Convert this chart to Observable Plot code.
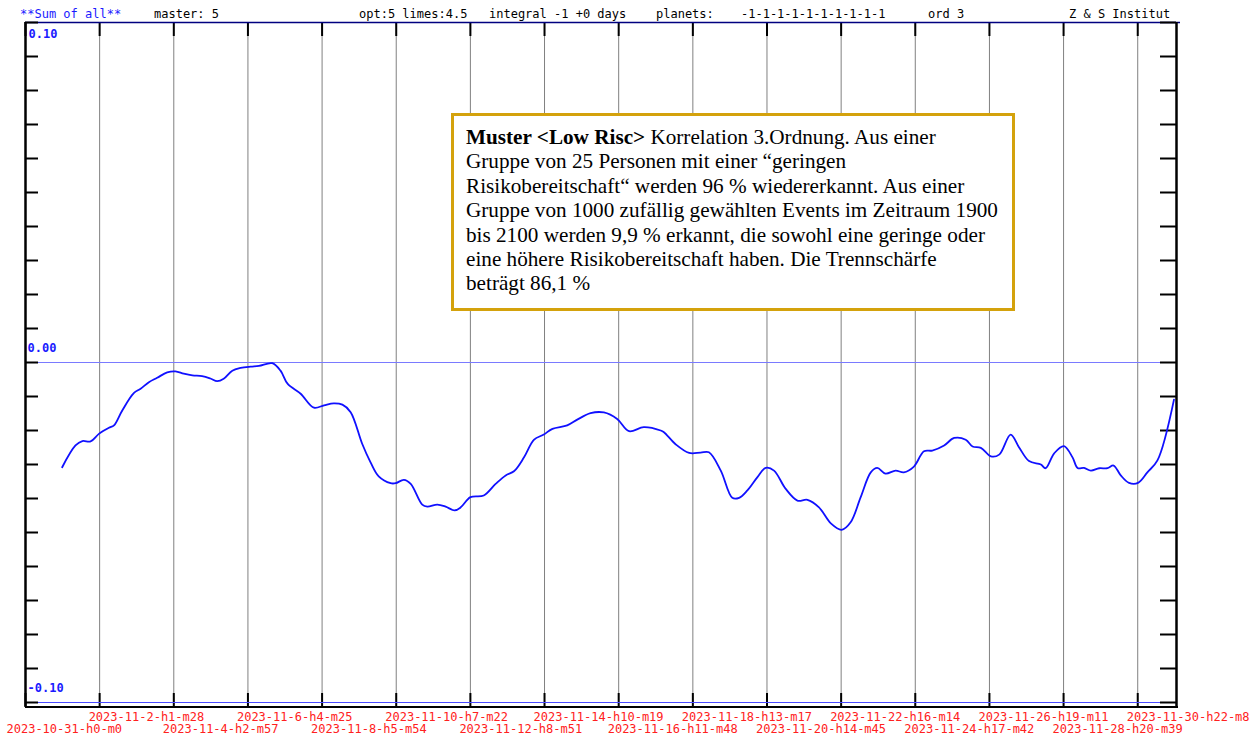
<!DOCTYPE html>
<html><head><meta charset="utf-8">
<script src="https://cdn.jsdelivr.net/npm/d3@7"></script>
<script src="https://cdn.jsdelivr.net/npm/@observablehq/plot@0.6"></script>
<style>
body{margin:0;background:#fff;}
#wrap{position:relative;width:1259px;height:740px;overflow:hidden;}
#wrap svg{position:absolute;left:0;top:0;}
.hd{position:absolute;top:7px;font-family:"DejaVu Sans Mono",monospace;font-size:12px;color:#000;white-space:pre;line-height:14px;}
#note{position:absolute;left:451px;top:113px;width:564px;height:198px;box-sizing:border-box;border:3px solid #d4a20c;background:#fff;font-family:"Liberation Serif","Times New Roman",serif;font-size:21.2px;line-height:24.4px;padding:9px 0 0 12px;color:#000;white-space:nowrap;}
#note b{font-family:"Liberation Serif","Times New Roman",serif;}
</style></head>
<body>
<div id="wrap"></div>
<script>
// ---- data ----
const startDay = [2023, 10, 31];   // year, month, day of the axis start
const endDay = [2023, 12, 2];      // year, month, day of the axis end
const dayOffsets = [1.02,1.39,1.58,1.81,2.04,2.32,2.46,2.69,3.01,3.20,3.43,3.66,3.94,4.17,4.40,4.64,4.91,5.14,5.33,5.51,5.75,5.98,6.26,6.49,6.86,7.09,7.29,7.65,8.02,8.30,8.57,8.81,9.04,9.36,9.59,9.82,10.15,10.29,10.52,10.71,11.03,11.17,11.45,11.68,11.93,12.10,12.37,12.74,13.07,13.35,13.58,13.86,14.14,14.41,14.65,15.06,15.34,15.71,16.08,16.45,16.78,17.19,17.66,17.75,18.08,18.45,18.77,19.00,19.33,19.65,19.84,20.07,20.35,20.58,20.81,21.13,21.46,21.74,22.06,22.39,22.69,22.94,23.22,23.50,23.68,23.91,24.19,24.42,24.70,24.98,25.21,25.54,25.82,26.14,26.33,26.56,26.84,27.07,27.39,27.62,27.90,28.23,28.36,28.60,28.87,29.11,29.25,29.43,29.62,29.85,30.08,30.25,30.45,30.68,30.93,31.19,31.47,31.93];
const values = [-0.0308,-0.0244,-0.0231,-0.0232,-0.0210,-0.0192,-0.0185,-0.0141,-0.0090,-0.0077,-0.0058,-0.0045,-0.0029,-0.0026,-0.0033,-0.0038,-0.0040,-0.0047,-0.0055,-0.0048,-0.0024,-0.0016,-0.0012,-0.0010,-0.0002,-0.0024,-0.0063,-0.0092,-0.0133,-0.0126,-0.0120,-0.0124,-0.0146,-0.0239,-0.0293,-0.0335,-0.0355,-0.0355,-0.0345,-0.0357,-0.0418,-0.0424,-0.0418,-0.0424,-0.0435,-0.0426,-0.0396,-0.0391,-0.0357,-0.0332,-0.0320,-0.0279,-0.0227,-0.0212,-0.0195,-0.0185,-0.0168,-0.0149,-0.0147,-0.0166,-0.0202,-0.0190,-0.0200,-0.0205,-0.0241,-0.0266,-0.0265,-0.0264,-0.0318,-0.0398,-0.0398,-0.0376,-0.0337,-0.0310,-0.0318,-0.0371,-0.0406,-0.0404,-0.0426,-0.0473,-0.0492,-0.0470,-0.0396,-0.0323,-0.0310,-0.0327,-0.0318,-0.0323,-0.0306,-0.0261,-0.0259,-0.0244,-0.0222,-0.0227,-0.0247,-0.0251,-0.0276,-0.0271,-0.0212,-0.0249,-0.0290,-0.0300,-0.0311,-0.0267,-0.0246,-0.0279,-0.0310,-0.0310,-0.0318,-0.0311,-0.0311,-0.0303,-0.0332,-0.0354,-0.0354,-0.0323,-0.0288,-0.0109];
const tickLabels = ["2023-10-31-h0-m0","2023-11-2-h1-m28","2023-11-4-h2-m57","2023-11-6-h4-m25","2023-11-8-h5-m54","2023-11-10-h7-m22","2023-11-12-h8-m51","2023-11-14-h10-m19","2023-11-16-h11-m48","2023-11-18-h13-m17","2023-11-20-h14-m45","2023-11-22-h16-m14","2023-11-24-h17-m42","2023-11-26-h19-m11","2023-11-28-h20-m39","2023-11-30-h22-m8"];
const yTicks = [-0.10,-0.09,-0.08,-0.07,-0.06,-0.05,-0.04,-0.03,-0.02,-0.01,0.00,0.01,0.02,0.03,0.04,0.05,0.06,0.07,0.08,0.09,0.10];
const yLabelValues = [0.10, 0.00, -0.10];
const yLabelTexts = ["0.10", "0.00", "-0.10"];
const headerTexts = ["**Sum of all**","master: 5","opt:5 limes:4.5","integral -1 +0 days","planets:","-1-1-1-1-1-1-1-1-1-1","ord 3","Z & S Institut"];
const noteLines = ["Korrelation 3.Ordnung. Aus einer","Gruppe von 25 Personen mit einer “geringen","Risikobereitschaft“ werden 96 % wiedererkannt. Aus einer","Gruppe von 1000 zufällig gewählten Events im Zeitraum 1900","bis 2100 werden 9,9 % erkannt, die sowohl eine geringe oder","eine höhere Risikobereitschaft haben. Die Trennschärfe","beträgt 86,1 %"];
const noteBold = "Muster <Low Risc>";

// ---- build ----
const DAY = 864e5;
const t0 = Date.UTC(startDay[0], startDay[1]-1, startDay[2]);
const t1 = Date.UTC(endDay[0], endDay[1]-1, endDay[2]);
const parseTick = s => { const m = s.match(/(\d+)-(\d+)-(\d+)-h(\d+)-m(\d+)/); return new Date(Date.UTC(+m[1], +m[2]-1, +m[3], +m[4], +m[5])); };
const ticks = tickLabels.map((s, i) => ({date: parseTick(s), label: s, i}));
const series = dayOffsets.map((d, i) => ({date: new Date(t0 + d*DAY), value: values[i]}));
const yLabs = yLabelValues.map((v, i) => ({v, t: yLabelTexts[i]}));

const W = 1259, H = 740, mT = 22, mB = 38, mL = 25, mR = 83;
const fw = W - mL - mR, fh = H - mT - mB;
const mono = "DejaVu Sans Mono, monospace";

const chart = Plot.plot({
  width: W, height: H,
  marginTop: mT, marginBottom: mB, marginLeft: mL, marginRight: mR,
  x: {type: "utc", domain: [new Date(t0), new Date(t1)], axis: null},
  y: {domain: [-0.10, 0.10], axis: null},
  marks: [
    Plot.ruleX(ticks, {x: "date", stroke: "#808080", strokeWidth: 1, insetBottom: -4}),
    Plot.ruleX(ticks, {x: "date", stroke: "#000", strokeWidth: 2, insetBottom: fh - 14}),
    Plot.ruleX(ticks, {x: "date", stroke: "#000", strokeWidth: 2, insetTop: fh - 9, insetBottom: -4}),
    Plot.ruleY([0], {stroke: "#7a7aff", strokeWidth: 1}),
    Plot.ruleY([-0.10], {stroke: "#4a4aff", strokeWidth: 1}),
    Plot.ruleY([0.10], {stroke: "#000080", strokeWidth: 1.5, insetRight: -4}),
    Plot.ruleY(yTicks, {stroke: "#000", strokeWidth: 2, insetRight: fw - 13}),
    Plot.ruleY(yTicks, {stroke: "#000", strokeWidth: 2, insetLeft: fw - 16}),
    Plot.ruleX([new Date(t0)], {stroke: "#000", strokeWidth: 2.5, insetBottom: -5}),
    Plot.ruleX([new Date(t1)], {stroke: "#000", strokeWidth: 2.5, insetBottom: -5}),
    Plot.ruleY([-0.10], {stroke: "#000", strokeWidth: 2, dy: 4.5, insetRight: -2}),
    Plot.line(series, {x: "date", y: "value", stroke: "#1010ff", strokeWidth: 1.8, curve: "catmull-rom"}),
    Plot.text(yLabs.filter(d => d.v > 0), {x: new Date(t0), y: "v", text: "t", textAnchor: "start", dx: 3, dy: 12, fill: "#1a1aff", fontFamily: mono, fontSize: 12, fontWeight: "bold"}),
    Plot.text(yLabs.filter(d => d.v <= 0), {x: new Date(t0), y: "v", text: "t", textAnchor: "start", dx: 2, dy: -14, fill: "#1a1aff", fontFamily: mono, fontSize: 12, fontWeight: "bold"}),
    Plot.text(ticks.filter(d => d.i === 0), {x: "date", text: "label", frameAnchor: "bottom", dy: 30.5, dx: -19, textAnchor: "start", fill: "#ff2020", fontFamily: mono, fontSize: 12}),
    Plot.text(ticks.filter(d => d.i > 0 && d.i % 2 === 0), {x: "date", text: "label", frameAnchor: "bottom", dy: 30.5, dx: -11, textAnchor: "start", fill: "#ff2020", fontFamily: mono, fontSize: 12}),
    Plot.text(ticks.filter(d => d.i % 2 === 1), {x: "date", text: "label", frameAnchor: "bottom", dy: 18, dx: -11, textAnchor: "start", fill: "#ff2020", fontFamily: mono, fontSize: 12})
  ]
});
const wrap = document.getElementById("wrap");
wrap.appendChild(chart);

// header
const headerX = [20, 154, 359, 489, 656, 741, 928, 1069];
headerTexts.forEach((t, i) => {
  const s = document.createElement("div");
  s.className = "hd";
  s.style.left = headerX[i] + "px";
  if (i === 0) s.style.color = "#1a1aff";
  s.textContent = t;
  wrap.appendChild(s);
});

// annotation box
const note = document.createElement("div");
note.id = "note";
const b = document.createElement("b");
b.textContent = noteBold;
note.appendChild(b);
noteLines.forEach((l, i) => {
  if (i === 0) note.appendChild(document.createTextNode(" " + l));
  else { note.appendChild(document.createElement("br")); note.appendChild(document.createTextNode(l)); }
});
wrap.appendChild(note);
</script>
</body></html>
